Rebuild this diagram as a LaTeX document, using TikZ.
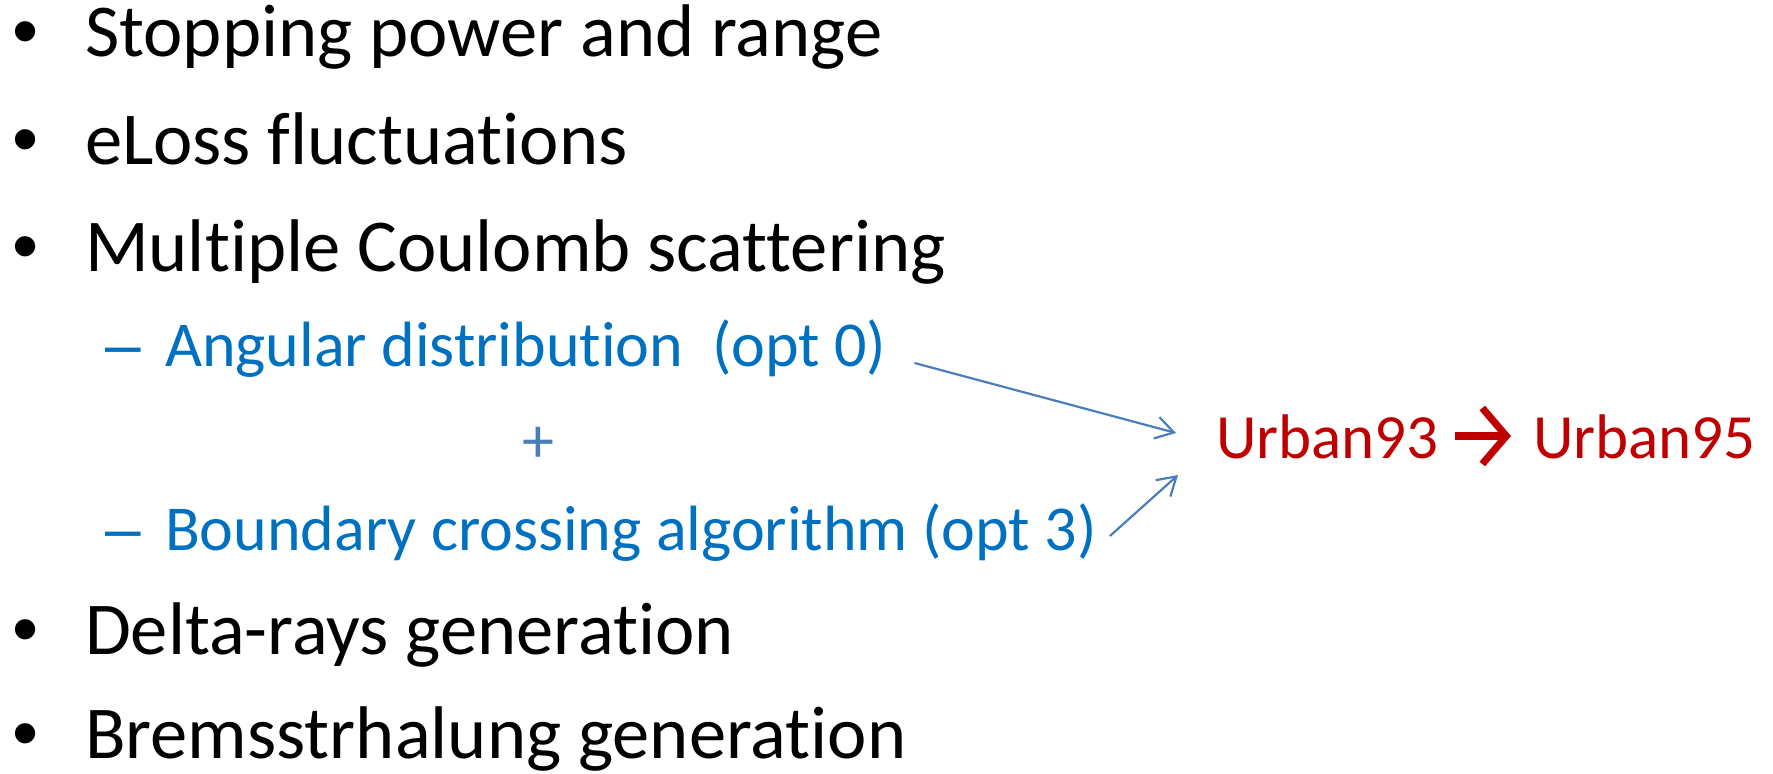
\documentclass[tikz,border=0pt]{standalone}
\usepackage{fontspec}
\setmainfont[Ligatures=NoCommon]{Carlito}
\newfontfamily\markfont{Liberation Sans}
\usetikzlibrary{arrows.meta,calc}
\definecolor{itemblue}{RGB}{0,112,192}
\definecolor{linkblue}{RGB}{74,126,187}
\definecolor{urbanred}{RGB}{192,0,0}
\tikzset{
  mainitem/.style={anchor=base west,inner sep=0pt,outer sep=0pt,font=\fontsize{37.3}{44}\selectfont},
  mainmark/.style={anchor=base west,inner sep=0pt,outer sep=0pt,font=\markfont\fontsize{37.3}{44}\selectfont},
  subitem/.style={anchor=base west,inner sep=0pt,outer sep=0pt,text=itemblue,font=\fontsize{32}{38}\selectfont},
  submark/.style={anchor=base west,inner sep=0pt,outer sep=0pt,text=itemblue,font=\markfont\fontsize{32}{38}\selectfont},
  urbanlabel/.style={anchor=base west,inner sep=0pt,outer sep=0pt,text=urbanred,font=\fontsize{31.5}{37}\selectfont},
  linkarrow/.style={draw=linkblue,line width=1.1pt,-{Straight Barb[length=9pt,width=11pt,line width=1.1pt]}},
  urbanarrow/.style={draw=urbanred,line width=3.6pt,-{Straight Barb[length=12pt,width=28pt,line width=3.6pt]}},
}
\begin{document}
\begin{tikzpicture}[x=0.5pt,y=-0.5pt]
%set diagram size to the slide cut-out
\useasboundingbox (0,0) rectangle (1773,773);

%Text Node: first bullet
\node[mainmark] (dotstop) at (12,56) {•};
\node[mainitem] (stop) at (85,56) {Stopping power and range};
%Text Node: second bullet
\node[mainmark] (doteloss) at (12,164) {•};
\node[mainitem] (eloss) at (85,164) {eLoss fluctuations};
%Text Node: third bullet
\node[mainmark] (dotmcs) at (12,271) {•};
\node[mainitem] (mcs) at (85,271) {Multiple Coulomb scattering};

%Text Node: sub item angular
\node[submark] (dashang) at (105,366) {–};
\node[subitem] (angular) at (165,366) {Angular distribution~ (opt 0)};
%Text Node: plus
\node[subitem,anchor=base,text=linkblue] (plus) at (538,462) {+};
%Text Node: sub item boundary
\node[submark] (dashbound) at (105,550) {–};
\node[subitem] (boundary) at (165,550) {Boundary crossing algorithm (opt 3)};

%Text Node: urban models
\node[urbanlabel] (u93) at (1216,458) {Urban93};
\node[urbanlabel] (u95) at (1533,458) {Urban95};
%Straight Lines: model change
\draw[urbanarrow] ($(u93.base east)+(16,-22)$) -- ($(u95.base west)+(-22,-22)$);

%Straight Lines: angular to urban
\draw[linkarrow] ($(angular.base east)+(28,-3)$) -- ($(u93.base west)+(-40,-25)$);
%Straight Lines: boundary to urban
\draw[linkarrow] ($(boundary.base east)+(13,-14)$) -- ($(u93.base west)+(-38,17)$);

%Text Node: fourth bullet
\node[mainmark] (dotdelta) at (12,654) {•};
\node[mainitem] (delta) at (85,654) {Delta-rays generation};
%Text Node: fifth bullet
\node[mainmark] (dotbrems) at (12,758) {•};
\node[mainitem] (brems) at (85,758) {Bremsstrhalung generation};

\end{tikzpicture}
\end{document}
